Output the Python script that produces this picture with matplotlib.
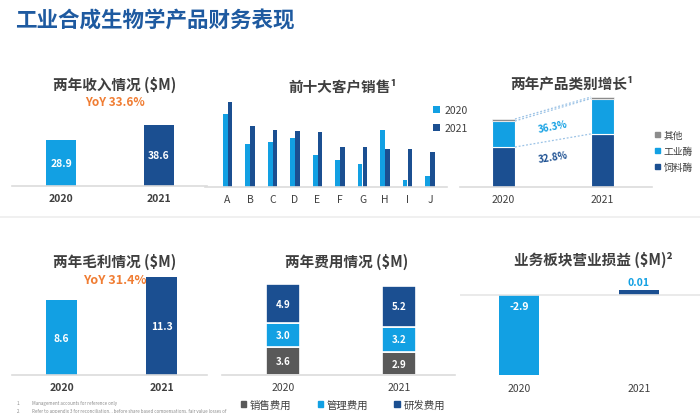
import numpy as np
import matplotlib
matplotlib.use('Agg')
import matplotlib.pyplot as plt
from matplotlib.patches import Patch

plt.rcParams['font.family'] = ['Noto Sans CJK SC', 'DejaVu Sans']

# ---- data ----
years = ['2020', '2021']
revenue = [28.9, 38.6]
revenue_yoy = 'YoY 33.6%'
gross = [8.6, 11.3]
gross_yoy = 'YoY 31.4%'
customers = ['A', 'B', 'C', 'D', 'E', 'F', 'G', 'H', 'I', 'J']
cust_2020 = [73, 43, 45, 49, 32, 27, 23, 57, 7, 11]
cust_2021 = [85, 61, 57, 56, 55, 40, 40, 38, 38, 35]
prod_feed = [40.0, 53.1]
prod_ind = [26.0, 35.4]
prod_other = [2.0, 1.5]
growth_ind = '36.3%'
growth_feed = '32.8%'
exp_sales = [3.6, 2.9]
exp_admin = [3.0, 3.2]
exp_rd = [4.9, 5.2]
op_profit = [-2.9, 0.01]
notes = ['Management accounts for reference only',
         'Refer to appendix 3 for reconciliation, , before share based compensations, fair value losses of']

LBLUE = '#12a0e3'
DBLUE = '#1b4f91'
GREY = '#595959'
TXT = '#3f3f3f'
ORANGE = '#f07d33'
LINE = '#dcdcdc'

W, H = 700, 414
fig = plt.figure(figsize=(7, 4.14), dpi=100)


def px_axes(l, t, r, b, spine=True):
    ax = fig.add_axes([l / W, 1 - b / H, (r - l) / W, (b - t) / H])
    for s in ax.spines.values():
        s.set_visible(False)
    if spine:
        ax.spines['bottom'].set_visible(True)
        ax.spines['bottom'].set_color(LINE)
        ax.spines['bottom'].set_linewidth(1.2)
    ax.set_yticks([])
    ax.tick_params(length=0, pad=5, labelsize=7.5, labelcolor=TXT)
    ax.patch.set_alpha(0)
    return ax


def ftext(x, y, s, **kw):
    kw.setdefault('ha', 'center')
    kw.setdefault('va', 'center')
    return fig.text(x / W, 1 - y / H, s, **kw)


# page title + separator
ftext(15, 21, '工业合成生物学产品财务表现', ha='left', fontsize=15.5,
      fontweight='bold', color='#1e5aa0')
fig.add_artist(plt.Line2D([0, 1], [1 - 218 / H] * 2, color='#eeeeee', lw=1.2))

# ---- panel 1: revenue ----
ax = px_axes(12, 117, 207, 187)
x = np.arange(2)
ax.bar(x, revenue, width=0.31, color=[LBLUE, DBLUE])
for i, v in enumerate(revenue):
    ax.text(i, v / 2, f'{v:.1f}', ha='center', va='center', color='white',
            fontsize=7.5, fontweight='bold')
ax.set_xlim(-0.5, 1.49)
ax.set_ylim(0, 70 / 1.585)
ax.set_xticks(x, years, fontweight='bold')
ftext(115, 85, '两年收入情况 ($M)', fontsize=10.5, fontweight='bold', color=TXT)
ftext(115, 103, revenue_yoy, fontsize=8.5, fontweight='bold', color=ORANGE)

# ---- panel 2: top 10 customers ----
ax = px_axes(205, 95, 447, 188)
x = np.arange(len(customers))
b1 = ax.bar(x - 0.11, cust_2020, width=0.22, color=LBLUE, label='2020')
b2 = ax.bar(x + 0.11, cust_2021, width=0.22, color=DBLUE, label='2021')
ax.set_xlim((205 - 227.5) / 22.5, (447 - 227.5) / 22.5)
ax.set_ylim(0, 93)
ax.set_xticks(x, customers)
ftext(343, 86, '前十大客户销售¹', fontsize=10.5, fontweight='bold', color=TXT)
fig.legend(handles=[b1, b2], loc='center left', bbox_to_anchor=(433 / W, 1 - 120 / H),
           frameon=False, fontsize=7.5, handlelength=0.7, handleheight=0.7,
           handletextpad=0.4, labelspacing=0.8, borderpad=0, borderaxespad=0,
           labelcolor=TXT)

# ---- panel 3: product categories ----
ax = px_axes(460, 90, 652, 188)
x = np.arange(2)
w = 0.232
feed = np.array(prod_feed)
ind = np.array(prod_ind)
oth = np.array(prod_other)
ax.bar(x, feed, width=w, color=DBLUE, edgecolor='white', lw=0.8)
ax.bar(x, ind, width=w, bottom=feed, color=LBLUE, edgecolor='white', lw=0.8)
ax.bar(x, oth, width=w, bottom=feed + ind, color='#8c8c8c', edgecolor='white', lw=0.4)
for lv in [feed, feed + ind, feed + ind + oth]:
    ax.plot([w / 2, 1 - w / 2], lv, ls=(0, (1.5, 1.5)), color='#9cc3e6', lw=0.9)
ax.set_xlim((460 - 503.5) / 99, (652 - 503.5) / 99)
ax.set_ylim(0, 98)
ax.set_xticks(x, years)
ax.annotate(growth_ind, (0.5, (feed + ind).mean()), xytext=(0, -12),
            textcoords='offset points', ha='center', va='center', rotation=11,
            fontsize=7, fontweight='bold', color=LBLUE)
ax.annotate(growth_feed, (0.5, feed.mean()), xytext=(0, -12),
            textcoords='offset points', ha='center', va='center', rotation=9,
            fontsize=7, fontweight='bold', color=DBLUE)
ftext(572, 83, '两年产品类别增长¹', fontsize=10.5, fontweight='bold', color=TXT)
h3 = [Patch(color='#8c8c8c', label='其他'), Patch(color=LBLUE, label='工业酶'),
      Patch(color=DBLUE, label='饲料酶')]
fig.legend(handles=h3, loc='center left', bbox_to_anchor=(655 / W, 1 - 152 / H),
           frameon=False, fontsize=7, handlelength=0.5, handleheight=0.5,
           handletextpad=0.4, labelspacing=0.6, borderpad=0, borderaxespad=0,
           labelcolor=TXT)

# ---- panel 4: gross profit ----
ax = px_axes(12, 270, 207, 376)
x = np.arange(2)
ax.bar(x, gross, width=0.31, color=[LBLUE, DBLUE])
for i, v in enumerate(gross):
    ax.text(i, v / 2, f'{v:.1f}', ha='center', va='center', color='white',
            fontsize=7.5, fontweight='bold')
ax.set_xlim((12 - 61.5) / 100, (207 - 61.5) / 100)
ax.set_ylim(0, 106 / 8.7)
ax.set_xticks(x, years, fontweight='bold')
ftext(115, 262, '两年毛利情况 ($M)', fontsize=10.5, fontweight='bold', color=TXT)
ftext(115, 280, gross_yoy, fontsize=9, fontweight='bold', color=ORANGE)
for i, n in enumerate(notes):
    ftext(17, 404 + 8 * i, f'{i + 1}.', ha='left', fontsize=3.2, color='#8a8a8a')
    ftext(32, 404 + 8 * i, n, ha='left', fontsize=3.2, color='#8a8a8a')

# ---- panel 5: expenses ----
ax = px_axes(222, 280, 455, 376)
x = np.arange(2)
w = 34 / 116
sales = np.array(exp_sales)
admin = np.array(exp_admin)
rd = np.array(exp_rd)
ax.bar(x, sales, width=w, color=GREY, edgecolor='white', lw=1.2)
ax.bar(x, admin, width=w, bottom=sales, color=LBLUE, edgecolor='white', lw=1.2)
ax.bar(x, rd, width=w, bottom=sales + admin, color=DBLUE, edgecolor='white', lw=1.2)
for base, vals in [(np.zeros(2), sales), (sales, admin), (sales + admin, rd)]:
    for i in range(2):
        ax.text(i, base[i] + vals[i] / 2, f'{vals[i]:.1f}', ha='center', va='center',
                color='white', fontsize=7, fontweight='bold')
ax.set_xlim((222 - 283) / 116, (455 - 283) / 116)
ax.set_ylim(0, 96 / 7.9)
ax.set_xticks(x, years)
ftext(347, 262, '两年费用情况 ($M)', fontsize=10.5, fontweight='bold', color=TXT)
fig.legend(handles=[Patch(color=GREY, label='销售费用'), Patch(color=LBLUE, label='管理费用'),
                    Patch(color=DBLUE, label='研发费用')],
           loc='center', bbox_to_anchor=(343 / W, 1 - 406 / H), ncol=3, frameon=False,
           fontsize=7.5, handlelength=0.5, handleheight=0.5, handletextpad=0.4,
           columnspacing=2.5, borderpad=0, borderaxespad=0, labelcolor=TXT)

# ---- panel 6: segment operating profit ----
ax = px_axes(460, 270, 700, 380, spine=False)
x = np.arange(2)
op = np.array(op_profit)
shown = np.where(np.abs(op) < 0.1, np.sign(op) * 0.18, op)  # keep tiny bar visible
ax.bar(x, shown, width=40 / 120, color=[LBLUE, DBLUE])
ax.axhline(0, color='#e6e6e6', lw=1.2)
ax.set_xlim((460 - 519) / 120, (700 - 519) / 120)
ax.set_ylim(-(380 - 296) / 27.6, (296 - 270) / 27.6)
ax.set_xticks(x, years)
ax.tick_params(pad=3)
ax.annotate(f'{op[0]:.1f}', (0, 0), xytext=(0, -8), textcoords='offset points',
            ha='center', va='center', color='white', fontsize=7.5, fontweight='bold')
ax.annotate(f'{op[1]:.2f}', (1, shown[1]), xytext=(0, 6), textcoords='offset points',
            ha='center', va='center', color=LBLUE, fontsize=7.5, fontweight='bold')
ftext(593, 260, '业务板块营业损益 ($M)²', fontsize=10.5, fontweight='bold', color=TXT)

fig.savefig('out.png', dpi=100)
